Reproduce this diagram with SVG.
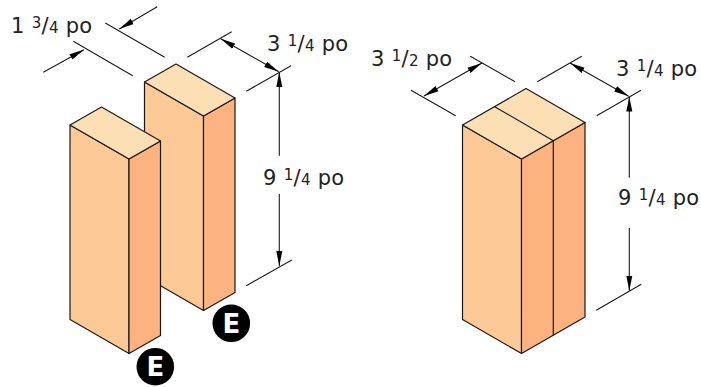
<svg xmlns="http://www.w3.org/2000/svg" width="701" height="387" viewBox="0 0 701 387">
<style>
.t{fill:#fddfb6}.l{fill:#fdca97}.r{fill:#fdb37f}
.e{stroke:#1a1a1a;stroke-width:1.2;stroke-linejoin:round;stroke-linecap:round}
.d{stroke:#1a1a1a;stroke-width:1.1;fill:none}
.a{marker-end:url(#ah)}
.b{marker-start:url(#ahs);marker-end:url(#ah)}
text{font-family:"DejaVu Sans",Verdana,sans-serif;font-size:21px;letter-spacing:.3px;fill:#222}
.f{font-size:15px}
.badge{font-family:"DejaVu Sans",sans-serif;font-weight:bold;font-size:26px;letter-spacing:0;fill:#fff;text-anchor:middle}
</style>
<defs>
<marker id="ah" markerUnits="userSpaceOnUse" markerWidth="16" markerHeight="8" refX="15" refY="4" orient="auto"><path d="M0 1L15 4L0 7Z" fill="#000"/></marker>
<marker id="ahs" markerUnits="userSpaceOnUse" markerWidth="16" markerHeight="8" refX="1" refY="4" orient="auto"><path d="M16 1L1 4L16 7Z" fill="#000"/></marker>
</defs>
<g id="block-back">
<path class="l e" d="M144.5 82L203.5 116V310.5L144.5 276.5Z"/>
<path class="r e" d="M203.5 116L235 98V292.5L203.5 310.5Z"/>
<path class="t e" d="M144.5 82L176 64L235 98L203.5 116Z"/>
</g>
<g id="block-front">
<path class="l e" d="M70 125L129 159V353.5L70 319.5Z"/>
<path class="r e" d="M129 159L160.5 141V335.5L129 353.5Z"/>
<path class="t e" d="M70 125L101.5 107L160.5 141L129 159Z"/>
</g>
<g id="block-right">
<path class="l e" d="M462.5 125L521.5 159V353.5L462.5 319.5Z"/>
<path class="r e" d="M521.5 159L585 122.5V317L521.5 353.5Z"/>
<path class="t e" d="M462.5 125L526 88.500L585 122.500L521.500 159Z"/>
<path class="e" fill="none" d="M494.700 106.700L553.300 140.700V335"/>
</g>
<g id="badge-1"><circle cx="231.300" cy="323.300" r="18.800" fill="#000"/><text class="badge" x="231.300" y="332.500">E</text></g>
<g id="badge-2"><circle cx="155.300" cy="366.700" r="18.800" fill="#000"/><text class="badge" x="155.300" y="376">E</text></g>
<g id="connectors">
<path class="d" d="M105.300 23L164.700 57.300M73.300 41.300L132.700 75.700M187.300 57.300L231.700 31.700M246.300 91.300L291 65.700M246.300 285.700L291.700 260"/>
<path class="d a" d="M157.300 6.700L119.300 29"/>
<path class="d a" d="M43.300 72.300L84 49.700"/>
<path class="d b" d="M220.700 38.700L278.700 71.700"/>
<path class="d a" d="M279.300 155.700V72"/>
<path class="d a" d="M279.300 194V266"/>
<path class="d" d="M470.300 56.300L515 81.700M411 90.300L455.700 115.700M537.300 81.700L581.700 56.300M596.700 115.700L641 90.300M596.300 310.300L641.300 284.300"/>
<path class="d b" d="M424 96L482 63"/>
<path class="d b" d="M570 63L628.700 96.300"/>
<path class="d a" d="M629.300 177.700V96.500"/>
<path class="d a" d="M629.300 228V290.700"/>
</g>
<g id="labels">
<text x="11" y="33">1 <tspan class="f" dy="-5">3</tspan><tspan dy="5">/</tspan><tspan class="f">4</tspan> po</text>
<text x="267" y="51">3 <tspan class="f" dy="-5">1</tspan><tspan dy="5">/</tspan><tspan class="f">4</tspan> po</text>
<text x="263" y="185">9 <tspan class="f" dy="-5">1</tspan><tspan dy="5">/</tspan><tspan class="f">4</tspan> po</text>
<text x="371" y="66">3 <tspan class="f" dy="-5">1</tspan><tspan dy="5">/</tspan><tspan class="f">2</tspan> po</text>
<text x="616" y="76">3 <tspan class="f" dy="-5">1</tspan><tspan dy="5">/</tspan><tspan class="f">4</tspan> po</text>
<text x="618" y="205">9 <tspan class="f" dy="-5">1</tspan><tspan dy="5">/</tspan><tspan class="f">4</tspan> po</text>
</g>
</svg>
